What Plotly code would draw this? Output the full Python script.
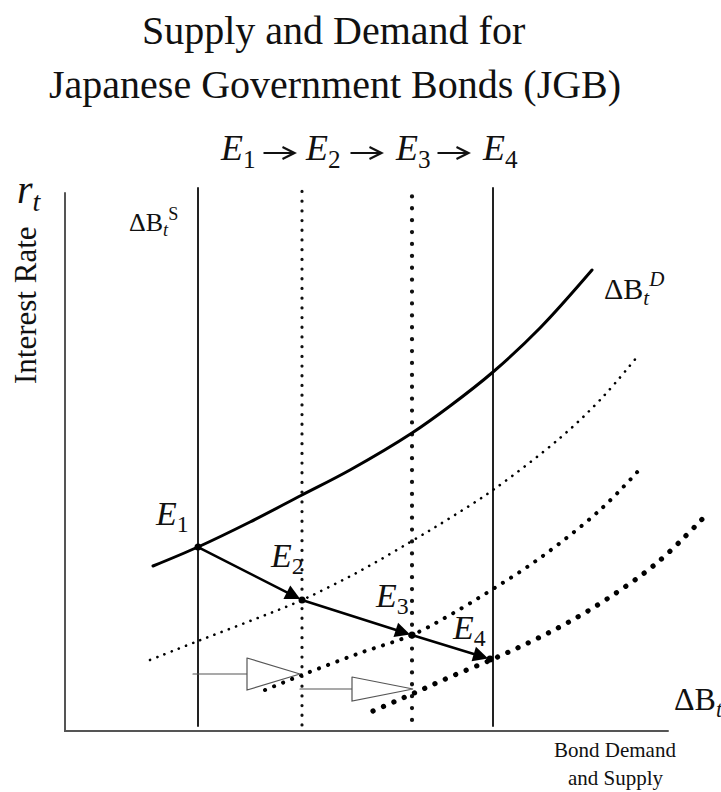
import plotly.graph_objects as go

# ---------------- data (diagram units, origin = corner of the axes) ----------------
supply_names = ["S1", "S2", "S3", "S4"]
supply_x = [133, 237, 347, 428]
supply_bottom = [5, 6, 11, 5]
supply_top = [543, 549, 544, 543]

d1_x = [88, 133, 185, 237, 285, 347, 385, 428, 475, 527]
d1_y = [165, 184, 209, 236, 261, 298, 325, 359, 403, 461]

d2_x = [85, 133, 185, 237, 295, 347, 385, 428, 495, 535, 572]
d2_y = [71, 90, 110, 131, 160, 190, 213, 241, 293, 331, 374]

d3_x = [200, 237, 295, 347, 385, 428, 475, 535, 575]
d3_y = [41, 56, 78, 96, 116, 142, 173, 221, 262]

d4_x = [308, 347, 385, 428, 465, 502, 545, 593, 643]
d4_y = [20, 37, 54, 72, 89, 108, 134, 169, 218]

eq_x = [133, 237, 347, 425]
eq_y = [184, 131, 96, 72]
eq_labels = ["1", "2", "3", "4"]

shift_start_x = [128, 235]
shift_end_x = [235, 348]
shift_y = [57, 42]

axis_x_end = 603
axis_y_end = 538

# ---------------- figure ----------------
W, H = 721, 792
OX, OY = 65, 731  # pixel location of diagram origin


def X(px):
    return px - OX


def Y(py):
    return OY - py


fig = go.Figure()

# axes lines
fig.add_trace(go.Scatter(x=[0, 0, axis_x_end], y=[axis_y_end, 0, 0], mode="lines",
                         line=dict(color="#555555", width=2), hoverinfo="skip"))

# supply lines
styles = [dict(color="#222222", width=2),
          dict(color="#111111", width=3.2, dash="0.1px,9.6px"),
          dict(color="#111111", width=4.2, dash="0.1px,11.8px"),
          dict(color="#222222", width=2)]
for i in range(4):
    fig.add_trace(go.Scatter(x=[supply_x[i], supply_x[i]], y=[supply_bottom[i], supply_top[i]],
                             mode="lines", line=styles[i], hoverinfo="skip"))

# demand curves
fig.add_trace(go.Scatter(x=d1_x, y=d1_y, mode="lines", line=dict(color="black", width=3, shape="spline")))
fig.add_trace(go.Scatter(x=d2_x, y=d2_y, mode="lines",
                         line=dict(color="black", width=2.6, shape="spline", dash="0.1px,7.6px")))
fig.add_trace(go.Scatter(x=d3_x, y=d3_y, mode="lines",
                         line=dict(color="black", width=4, shape="spline", dash="0.1px,9.6px")))
fig.add_trace(go.Scatter(x=d4_x, y=d4_y, mode="lines",
                         line=dict(color="black", width=5.2, shape="spline", dash="0.1px,11.2px")))

# hollow shift arrows
head_len = [53, 61]
head_half = [16, 12]
for i in range(2):
    tip = shift_end_x[i]
    back = tip - head_len[i]
    yy = shift_y[i]
    fig.add_trace(go.Scatter(x=[shift_start_x[i], back], y=[yy, yy], mode="lines",
                             line=dict(color="#555555", width=1.2), hoverinfo="skip"))
    fig.add_trace(go.Scatter(x=[back, tip, back, back], y=[yy + head_half[i], yy, yy - head_half[i], yy + head_half[i]],
                             mode="lines", fill="toself", fillcolor="white",
                             line=dict(color="#555555", width=1.2), hoverinfo="skip"))

# equilibrium path
fig.add_trace(go.Scatter(x=eq_x, y=eq_y, mode="markers", marker=dict(color="black", size=7)))

annotations = []
for i in range(3):
    annotations.append(dict(x=eq_x[i + 1], y=eq_y[i + 1], ax=eq_x[i], ay=eq_y[i],
                            xref="x", yref="y", axref="x", ayref="y", text="",
                            showarrow=True, arrowhead=2, arrowsize=1.2, arrowwidth=2.5,
                            arrowcolor="black", standoff=2))

serif = "Liberation Serif, Times New Roman, DejaVu Serif, serif"


def txt(text, px, py, size, xanchor="left", yanchor="middle", angle=0):
    annotations.append(dict(x=X(px), y=Y(py), xref="x", yref="y", text=text, showarrow=False,
                            xanchor=xanchor, yanchor=yanchor, textangle=angle,
                            font=dict(family=serif, size=size, color="#111111")))


# title
txt("Supply and Demand for", 333, 30, 40, xanchor="center")
txt("Japanese Government Bonds (JGB)", 335, 84, 40, xanchor="center")

# top sequence
top_E_x = [218, 303, 393, 480]
for i in range(4):
    txt("<i>E</i><sub>" + eq_labels[i] + "</sub>", top_E_x[i], 150, 36)
for a0, a1 in [(262, 297), (349, 384), (436, 471)]:
    annotations.append(dict(x=X(a1), y=Y(153), ax=X(a0), ay=Y(153), xref="x", yref="y",
                            axref="x", ayref="y", text="", showarrow=True, arrowhead=5,
                            arrowsize=1.3, arrowwidth=1.8, arrowcolor="#111111", standoff=0))

# equilibrium labels
E_lab_pos = [(153, 516), (268, 558), (373, 598), (450, 630)]
for i in range(4):
    txt("<i>E</i><sub>" + eq_labels[i] + "</sub>", E_lab_pos[i][0], E_lab_pos[i][1], 34)

# axis labels
txt("<i>r</i><sub><i>t</i></sub>", 15, 192, 40)
txt("Interest Rate", 25, 305, 31, xanchor="center", angle=-90)
txt("ΔB<sub><i>t</i></sub><sup>S</sup>", 127, 222, 26)
txt("ΔB<sub><i>t</i></sub><sup><i>D</i></sup>", 602, 288, 30)
txt("ΔB<sub><i>t</i></sub>", 672, 701, 32)
txt("Bond Demand", 615, 750, 21, xanchor="center")
txt("and Supply", 616, 778, 21, xanchor="center")

fig.update_layout(
    width=W, height=H, autosize=False,
    margin=dict(l=0, r=0, t=0, b=0, pad=0),
    paper_bgcolor="white", plot_bgcolor="white",
    showlegend=False,
    xaxis=dict(range=[X(0), X(W)], visible=False, fixedrange=True),
    yaxis=dict(range=[Y(H), Y(0)], visible=False, fixedrange=True),
    annotations=annotations,
)

post = (
    "document.body.style.margin='0';"
    "var gd=document.getElementById('{plot_id}');"
    "gd.querySelectorAll('.scatterlayer .js-line').forEach(function(p){"
    "p.style.strokeLinecap='round';});"
)

fig.write_html("out.html", config={"displayModeBar": False}, post_script=post)
